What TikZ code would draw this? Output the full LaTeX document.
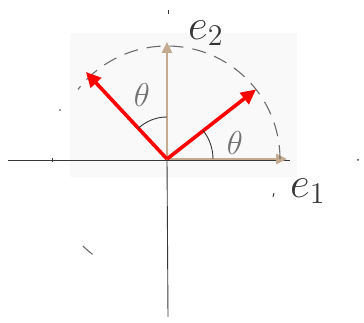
\documentclass[tikz,border=0pt]{standalone}
\usepackage{amsmath, amssymb}
\usepackage{tikz}
\usetikzlibrary{arrows.meta}
\definecolor{tanline}{RGB}{196,170,142}
\definecolor{pencil}{RGB}{55,55,55}
\definecolor{paper}{RGB}{249,249,249}

\begin{document}
\begin{tikzpicture}[x=1pt,y=1pt,
  axis/.style={pencil,line width=0.9pt},
  basis/.style={tanline,line width=2.6pt,-{Triangle[length=11pt,width=10pt]}},
  rotated/.style={red,line width=3.6pt,-{Triangle[length=15pt,width=14pt]}},
  circ/.style={gray!85!black,line width=1.1pt,dash pattern=on 14pt off 9pt},
  angarc/.style={pencil,line width=0.9pt},
  vlabel/.style={pencil,font=\LARGE,scale=2.5},
  alabel/.style={gray!90!black,font=\Large,scale=2.3}]
  \useasboundingbox (0,0) rectangle (364,323);
  \fill[paper] (70,146) rectangle (297,290);
  \coordinate (O) at (167,164);
  \coordinate (W) at (8,163);
  \coordinate (S) at (168,6);
  \draw[axis] (W) -- (290,163);
  \draw[axis] (O) -- (S);
  % basis vectors
  \path (O) ++(0:120) coordinate (b1);
  \path (O) ++(90:117) coordinate (b2);
  \draw[basis] (O) -- (b1);
  \draw[basis] (O) -- (b2);
  % dashed unit circle
  \draw[circ] (O) ++(0:113) arc (0:142:113);
  \draw[circ] (O) ++(226:121) arc (226:232:121);
  % rotated vectors
  \path (O) ++(38:113) coordinate (f1);
  \path (O) ++(133:119) coordinate (f2);
  \draw[rotated] (O) -- (f1);
  \draw[rotated] (O) -- (f2);
  % angles
  \draw[angarc] (O) ++(0:46) arc (0:38:46);
  \draw[angarc] (O) ++(90:42) arc (90:133:42);
  \node[alabel] (th1) at (235,180) {$\theta$};
  \node[alabel] (th2) at (142,228) {$\theta$};
  \node[vlabel] (e2lab) at (206,290) {$e_2$};
  \node[vlabel] (e1lab) at (308,132) {$e_1$};
  % stray marks
  \draw[axis] (168,309) -- (168,313);
  \draw[axis] (52,161) -- (52,165);
  \fill[pencil] (358,163) circle (1pt);
  \fill[pencil] (60,213) circle (0.8pt);
  \draw[axis] (273,126) -- (274,130);
\end{tikzpicture}
\end{document}
